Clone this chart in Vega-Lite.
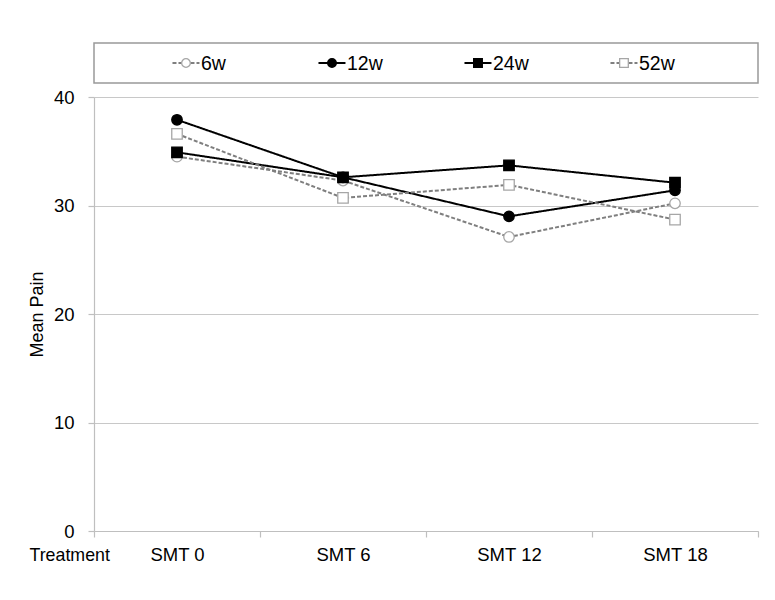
{
  "$schema": "https://vega.github.io/schema/vega-lite/v6.json",
  "padding": {"left": 28, "top": 42, "right": 5, "bottom": 5},
  "bounds": "flush",
  "spacing": 14,
  "background": "white",
  "config": {
    "font": "Liberation Sans",
    "view": {"stroke": null},
    "axis": {
      "labelFont": "Liberation Sans",
      "titleFont": "Liberation Sans",
      "labelFontSize": 18.5,
      "titleFontSize": 18,
      "titleFontWeight": "normal",
      "labelColor": "#000",
      "titleColor": "#000",
      "domainColor": "#bfbfbf",
      "tickColor": "#bfbfbf",
      "gridColor": "#c8c8c8",
      "domainWidth": 1.2,
      "tickWidth": 1.2
    }
  },
  "datasets": {
    "main": [
      {"treatment": "SMT 0", "series": "6w", "pain": 34.5},
      {"treatment": "SMT 6", "series": "6w", "pain": 32.3},
      {"treatment": "SMT 12", "series": "6w", "pain": 27.1},
      {"treatment": "SMT 18", "series": "6w", "pain": 30.2},
      {"treatment": "SMT 0", "series": "12w", "pain": 37.9},
      {"treatment": "SMT 6", "series": "12w", "pain": 32.6},
      {"treatment": "SMT 12", "series": "12w", "pain": 29.0},
      {"treatment": "SMT 18", "series": "12w", "pain": 31.4},
      {"treatment": "SMT 0", "series": "24w", "pain": 34.9},
      {"treatment": "SMT 6", "series": "24w", "pain": 32.6},
      {"treatment": "SMT 12", "series": "24w", "pain": 33.7},
      {"treatment": "SMT 18", "series": "24w", "pain": 32.1},
      {"treatment": "SMT 0", "series": "52w", "pain": 36.6},
      {"treatment": "SMT 6", "series": "52w", "pain": 30.7},
      {"treatment": "SMT 12", "series": "52w", "pain": 31.9},
      {"treatment": "SMT 18", "series": "52w", "pain": 28.7}
    ],
    "legend": [
      {"series": "6w"},
      {"series": "12w"},
      {"series": "24w"},
      {"series": "52w"}
    ]
  },
  "vconcat": [
    {
      "width": 664,
      "height": 40,
      "view": {"stroke": "#999999", "strokeWidth": 1.5},
      "data": {"name": "legend"},
      "encoding": {
        "x": {
          "field": "series",
          "type": "nominal",
          "sort": ["6w", "12w", "24w", "52w"],
          "scale": {"type": "point", "padding": 0.774, "align": 0.407},
          "axis": null
        }
      },
      "layer": [
        {
          "mark": {"type": "point", "shape": "stroke", "size": 729, "strokeWidth": 2, "opacity": 1},
          "encoding": {
            "stroke": {
              "field": "series",
              "type": "nominal",
              "scale": {"domain": ["6w", "12w", "24w", "52w"], "range": ["#7f7f7f", "#000000", "#000000", "#7f7f7f"]},
              "legend": null
            },
            "strokeDash": {
              "field": "series",
              "type": "nominal",
              "scale": {"domain": ["6w", "12w", "24w", "52w"], "range": [[4, 2], [1, 0], [1, 0], [4, 2]]},
              "legend": null
            }
          }
        },
        {
          "mark": {"type": "point", "filled": true, "size": 75, "strokeWidth": 1.3, "opacity": 1},
          "encoding": {
            "shape": {
              "field": "series",
              "type": "nominal",
              "scale": {"domain": ["6w", "12w", "24w", "52w"], "range": ["circle", "circle", "square", "square"]},
              "legend": null
            },
            "fill": {
              "field": "series",
              "type": "nominal",
              "scale": {"domain": ["6w", "12w", "24w", "52w"], "range": ["#ffffff", "#000000", "#000000", "#ffffff"]},
              "legend": null
            },
            "stroke": {
              "field": "series",
              "type": "nominal",
              "scale": {"domain": ["6w", "12w", "24w", "52w"], "range": ["#a6a6a6", "#000000", "#000000", "#a6a6a6"]},
              "legend": null
            }
          }
        },
        {
          "mark": {"type": "text", "align": "left", "baseline": "middle", "dx": 15, "dy": 1, "fontSize": 19.5, "font": "Liberation Sans", "color": "#000"},
          "encoding": {"text": {"field": "series", "type": "nominal"}}
        }
      ],
      "resolve": {"scale": {"stroke": "independent"}}
    },
    {
      "width": 664,
      "height": 434,
      "data": {"name": "main"},
      "encoding": {
        "x": {
          "field": "treatment",
          "type": "nominal",
          "sort": ["SMT 0", "SMT 6", "SMT 12", "SMT 18"],
          "bandPosition": 0.5,
          "scale": {"type": "band", "paddingInner": 0, "paddingOuter": 0},
          "axis": {
            "title": "Treatment",
            "labelAngle": 0,
            "grid": false,
            "tickBand": "extent",
            "tickSize": 6,
            "labelPadding": 8,
            "labelBaseline": "top",
            "titleAlign": "left",
            "titleBaseline": "middle",
            "titleAnchor": null,
            "titleFontSize": 17.8,
            "titleX": -65,
            "titleY": 24
          }
        },
        "y": {
          "field": "pain",
          "type": "quantitative",
          "scale": {"domain": [0, 40], "nice": false},
          "axis": {
            "title": "Mean Pain",
            "values": [0, 10, 20, 30, 40],
            "grid": true,
            "tickSize": 6,
            "labelPadding": 14,
            "titlePadding": 7,
            "titleFontSize": 18
          }
        }
      },
      "layer": [
        {
          "mark": {"type": "line", "strokeWidth": 2},
          "encoding": {
            "order": {"value": null},
            "stroke": {
              "field": "series",
              "type": "nominal",
              "scale": {"domain": ["6w", "12w", "24w", "52w"], "range": ["#7f7f7f", "#000000", "#000000", "#7f7f7f"]},
              "legend": null
            },
            "strokeDash": {
              "field": "series",
              "type": "nominal",
              "scale": {"domain": ["6w", "12w", "24w", "52w"], "range": [[6, 3], [1, 0], [1, 0], [6, 3]]},
              "legend": null
            }
          }
        },
        {
          "mark": {"type": "point", "filled": true, "size": 110, "strokeWidth": 1.3, "opacity": 1},
          "encoding": {
            "shape": {
              "field": "series",
              "type": "nominal",
              "scale": {"domain": ["6w", "12w", "24w", "52w"], "range": ["circle", "circle", "square", "square"]},
              "legend": null
            },
            "fill": {
              "field": "series",
              "type": "nominal",
              "scale": {"domain": ["6w", "12w", "24w", "52w"], "range": ["#ffffff", "#000000", "#000000", "#ffffff"]},
              "legend": null
            },
            "stroke": {
              "field": "series",
              "type": "nominal",
              "scale": {"domain": ["6w", "12w", "24w", "52w"], "range": ["#a6a6a6", "#000000", "#000000", "#a6a6a6"]},
              "legend": null
            }
          }
        }
      ],
      "resolve": {"scale": {"stroke": "independent"}}
    }
  ]
}
